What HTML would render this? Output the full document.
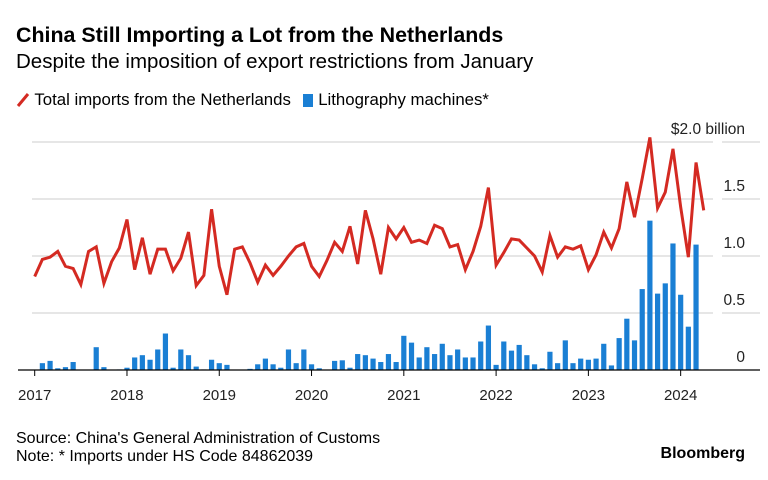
<!DOCTYPE html>
<html><head><meta charset="utf-8"><style>
body{margin:0;width:768px;height:480px;background:#fff;font-family:"Liberation Sans",sans-serif;color:#000;overflow:hidden;position:relative}
.t{position:absolute;white-space:nowrap}
</style></head><body>
<div class="t" style="left:16px;top:23px;font-size:21.4px;font-weight:bold">China Still Importing a Lot from the Netherlands</div>
<div class="t" style="left:16px;top:50px;font-size:20.5px">Despite the imposition of export restrictions from January</div>
<div class="t" style="left:16px;top:90px;font-size:16.8px">
<span><svg width="14" height="14" style="vertical-align:-2px"><line x1="2" y1="13" x2="12" y2="1" stroke="#d42a22" stroke-width="3"/></svg> Total imports from the Netherlands</span>
<span style="margin-left:6px"><svg width="12" height="14" style="vertical-align:-2px"><rect x="1" y="1" width="10" height="13" fill="#1a7fd4"/></svg> Lithography machines*</span></div>
<svg id="c" width="768" height="480" style="position:absolute;left:0;top:0"></svg>
<div class="t" style="left:16px;top:430px;font-size:16px">Source: China's General Administration of Customs</div>
<div class="t" style="left:16px;top:448px;font-size:16px">Note: * Imports under HS Code 84862039</div>
<div class="t" style="right:23px;top:445px;font-size:16px;font-weight:bold">Bloomberg</div>
<script>
const total=[0.82,0.97,0.99,1.04,0.91,0.89,0.75,1.04,1.08,0.76,0.95,1.07,1.32,0.88,1.16,0.84,1.06,1.06,0.87,0.98,1.21,0.74,0.83,1.41,0.91,0.66,1.06,1.08,0.94,0.77,0.92,0.83,0.91,1.0,1.08,1.11,0.91,0.82,0.96,1.12,1.04,1.26,0.93,1.40,1.15,0.84,1.25,1.15,1.25,1.12,1.14,1.11,1.27,1.24,1.08,1.10,0.88,1.04,1.26,1.60,0.92,1.03,1.15,1.14,1.07,1.0,0.86,1.18,0.99,1.08,1.06,1.09,0.88,1.01,1.21,1.07,1.24,1.65,1.34,1.68,2.04,1.42,1.56,1.94,1.43,0.99,1.82,1.40];
const litho=[0,0.06,0.08,0.015,0.025,0.07,0,0,0.2,0.025,0,0.005,0.02,0.11,0.13,0.09,0.18,0.32,0.02,0.18,0.13,0.03,0.005,0.09,0.06,0.045,0,0,0.01,0.05,0.1,0.05,0.02,0.18,0.06,0.18,0.05,0.015,0,0.08,0.085,0.02,0.14,0.13,0.1,0.07,0.14,0.07,0.3,0.24,0.11,0.2,0.14,0.23,0.13,0.18,0.11,0.11,0.25,0.39,0.045,0.25,0.17,0.22,0.13,0.05,0.015,0.16,0.06,0.26,0.06,0.1,0.09,0.1,0.23,0.04,0.28,0.45,0.26,0.71,1.31,0.67,0.76,1.11,0.66,0.38,1.1,0];
const yTicks=[0,0.5,1.0,1.5,2.0];
const yLabels=["0","0.5","1.0","1.5","$2.0 billion"];
const years=[2017,2018,2019,2020,2021,2022,2023,2024];
const NS='http://www.w3.org/2000/svg',svg=document.getElementById('c');
const x=m=>34.7+7.69*m, y=v=>370-114*v;
function mk(t,a,p){const e=document.createElementNS(NS,t);for(const k in a)e.setAttribute(k,a[k]);(p||svg).appendChild(e);return e;}
yTicks.forEach((v,i)=>{
 if(v>0){const l=mk('line',{x1:32,x2:713,y1:y(v),y2:y(v),stroke:'#ddd','stroke-width':1.5});
 
 const l2=mk('line',{x1:722,x2:760,y1:y(v),y2:y(v),stroke:'#ddd','stroke-width':1.5});
 }
 const t=mk('text',{x:745,y:y(v)-8,'text-anchor':'end','font-size':15.5,fill:'#222'});t.textContent=yLabels[i];
 
});
litho.forEach((v,i)=>{if(v<=0)return;const r=mk('rect',{x:x(i)-2.6,y:y(v),width:5.2,height:370-y(v),fill:'#1a7fd4'});
 });
const b=mk('line',{x1:18,x2:760,y1:370,y2:370,stroke:'#000','stroke-width':1.3});

years.forEach((yr,i)=>{const xx=x(i*12);
 const tk=mk('line',{x1:xx,x2:xx,y1:370,y2:376,stroke:'#000','stroke-width':1});
 
 const t=mk('text',{x:xx,y:400,'text-anchor':'middle','font-size':15,fill:'#222'});t.textContent=yr;
 });
const p=mk('polyline',{points:total.map((v,i)=>x(i)+','+y(v)).join(' '),fill:'none',stroke:'#d42a22','stroke-width':3,'stroke-linejoin':'miter'});

</script>
</body></html>
